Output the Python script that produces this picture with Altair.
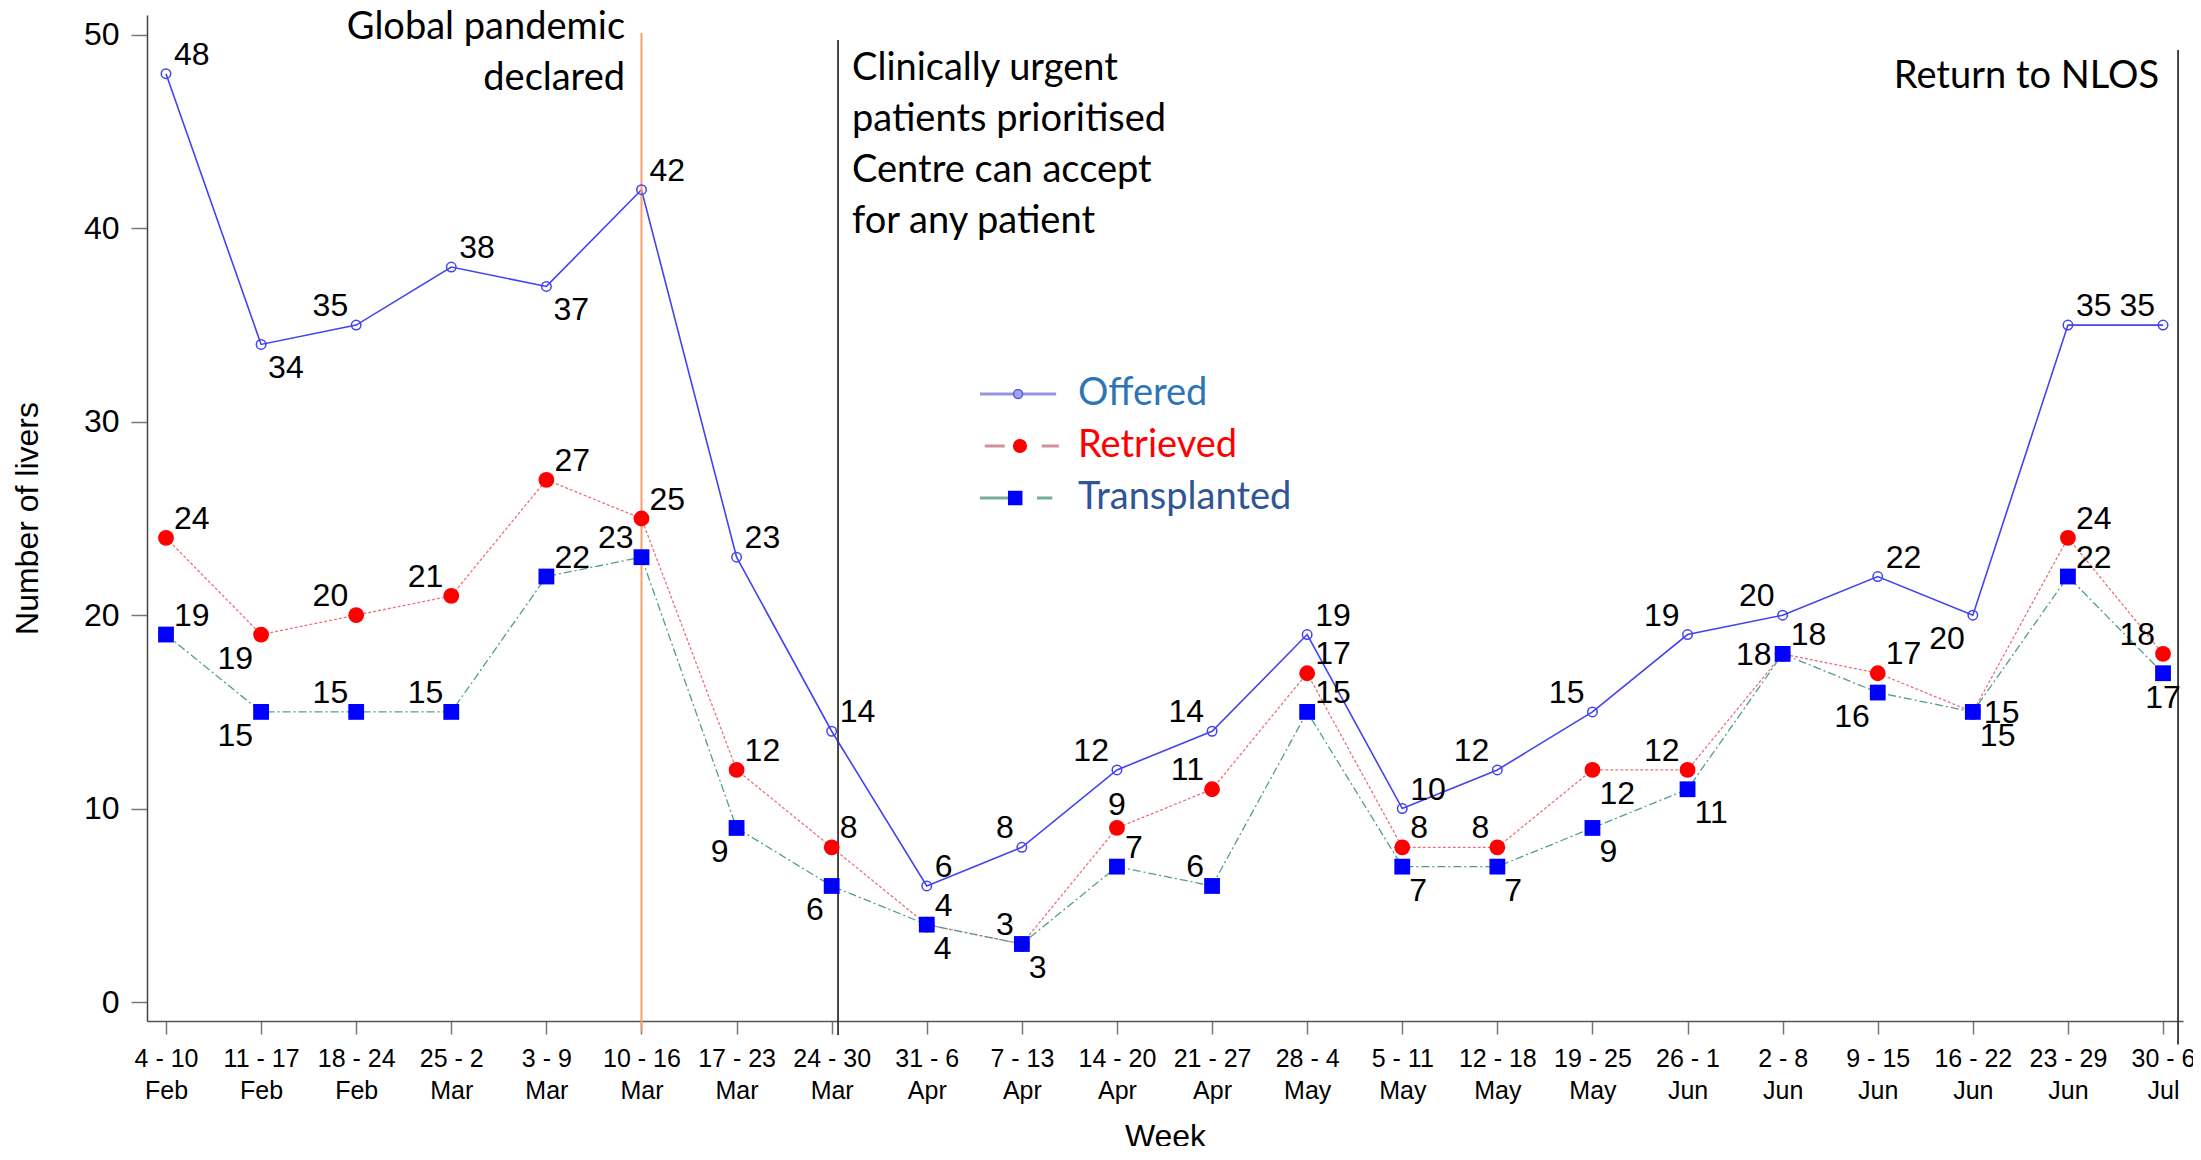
import json
import altair as alt
import pandas as pd

# ---------------- data ----------------
week_ranges = ["4 - 10", "11 - 17", "18 - 24", "25 - 2", "3 - 9", "10 - 16", "17 - 23",
               "24 - 30", "31 - 6", "7 - 13", "14 - 20", "21 - 27", "28 - 4", "5 - 11",
               "12 - 18", "19 - 25", "26 - 1", "2 - 8", "9 - 15", "16 - 22", "23 - 29", "30 - 6"]
week_months = ["Feb", "Feb", "Feb", "Mar", "Mar", "Mar", "Mar", "Mar", "Apr", "Apr", "Apr",
               "Apr", "May", "May", "May", "May", "Jun", "Jun", "Jun", "Jun", "Jun", "Jul"]
offered = [48, 34, 35, 38, 37, 42, 23, 14, 6, 8, 12, 14, 19, 10, 12, 15, 19, 20, 22, 20, 35, 35]
retrieved = [24, 19, 20, 21, 27, 25, 12, 8, 4, 3, 9, 11, 17, 8, 8, 12, 12, 18, 17, 15, 24, 18]
transplanted = [19, 15, 15, 15, 22, 23, 9, 6, 4, 3, 7, 6, 15, 7, 7, 9, 11, 18, 16, 15, 22, 17]
y_ticks = [0, 10, 20, 30, 40, 50]
series_names = ["Offered", "Retrieved", "Transplanted"]

# label placement codes (layout only)
offered_pos = ["ur", "lr", "ul", "ur", "lr", "ur", "ur", "ur", "ur", "ul", "ul", "ul", "ur", "ur",
               "ul", "ul", "ul", "ul", "ur", "ll", "ur", "ul"]
retrieved_pos = ["ur", "ll", "ul", "ul", "ur", "ur", "ur", "ur", "lr", "lr", "u", "ul", "ur", "ur",
                 "ul", "lr", "ul", "ur", "ur", "lr", "ur", "ul"]
transplanted_pos = ["ur", "ll", "ul", "ul", "ur", "ul", "ll", "ll", "ur", "ul", "ur", "ul", "ur", "lr",
                    "lr", "lr", "lr", "l", "ll", "r", "ur", "d"]

rows = []
for name, vals, poss in zip(series_names, [offered, retrieved, transplanted],
                            [offered_pos, retrieved_pos, transplanted_pos]):
    for i, (v, p) in enumerate(zip(vals, poss)):
        rows.append({"idx": i, "value": v, "series": name, "pos": p})
df = pd.DataFrame(rows)

# ---------------- scales / axes ----------------
label_pairs = [[r, m] for r, m in zip(week_ranges, week_months)]
label_expr = json.dumps(label_pairs) + "[round(datum.value)]"

LABEL_FONT = "Liberation Sans"
NOTE_FONT = "Lato"

x_enc = alt.X(
    "idx:Q",
    scale=alt.Scale(domain=[-0.1998, 21.21], nice=False, zero=False),
    axis=alt.Axis(
        values=list(range(len(week_ranges))), labelExpr=label_expr,
        labelFont=LABEL_FONT, labelFontSize=25, labelColor="black",
        labelLineHeight=32, labelPadding=12, labelAngle=0,
        labelOverlap=False, labelFlush=False,
        tickSize=13, tickColor="#777777", tickWidth=1.5,
        domainColor="#555555", domainWidth=1.5, grid=False,
        titleFont=LABEL_FONT, titleFontSize=32, titleFontWeight="normal",
        titleColor="black", titlePadding=18,
    ),
    title="Week",
)
y_enc = alt.Y(
    "value:Q",
    scale=alt.Scale(domain=[-0.982, 51.034], nice=False, zero=False),
    axis=alt.Axis(
        values=y_ticks, format="d",
        labelFont=LABEL_FONT, labelFontSize=32, labelColor="black", labelPadding=12,
        tickSize=16, tickColor="#777777", tickWidth=1.5,
        domainColor="#444444", domainWidth=1.5, grid=False,
        titleFont=LABEL_FONT, titleFontSize=32, titleFontWeight="normal",
        titleColor="black", titlePadding=39,
    ),
    title="Number of livers",
)

base = alt.Chart(df)

def series(name):
    return base.transform_filter(alt.datum.series == name)

line_ret = series("Retrieved").mark_line(color="#e8747c", strokeWidth=1.3,
                                         strokeDash=[3, 2]).encode(x=x_enc, y=y_enc)
line_tr = series("Transplanted").mark_line(color="#4f9f90", strokeWidth=1.3,
                                           strokeDash=[8, 3, 2, 3]).encode(x=x_enc, y=y_enc)
line_off = series("Offered").mark_line(color="#4343f0", strokeWidth=1.6).encode(x=x_enc, y=y_enc)

pts_ret = series("Retrieved").mark_circle(color="#ff0000", size=250, opacity=1).encode(x=x_enc, y=y_enc)
pts_tr = series("Transplanted").mark_square(color="#0000ff", size=250, opacity=1).encode(x=x_enc, y=y_enc)
pts_off = series("Offered").mark_point(shape="circle", filled=False, color="#4343f0", size=90,
                                       strokeWidth=1.5, opacity=1).encode(x=x_enc, y=y_enc)

placements = {
    "ur": dict(align="left", dx=8, dy=-9),
    "ul": dict(align="right", dx=-8, dy=-9),
    "lr": dict(align="left", dx=7, dy=34),
    "ll": dict(align="right", dx=-8, dy=34),
    "u": dict(align="center", dx=0, dy=-13),
    "d": dict(align="center", dx=0, dy=35),
    "l": dict(align="right", dx=-11, dy=11),
    "r": dict(align="left", dx=11, dy=11),
}
label_layers = []
for code, spec in placements.items():
    label_layers.append(
        base.transform_filter(alt.datum.pos == code).mark_text(
            baseline="alphabetic", font=LABEL_FONT, fontSize=32, color="black", **spec
        ).encode(x=x_enc, y=y_enc, text="value:Q")
    )

# ---------------- event lines & notes ----------------
def rule(idx, top, bottom, color, width):
    d = pd.DataFrame({"idx": [idx], "value": [top], "value2": [bottom]})
    return alt.Chart(d).mark_rule(color=color, strokeWidth=width).encode(
        x=x_enc, y=y_enc, y2="value2:Q")

rule_pandemic = rule(5, 50.1, -1.5, "#f4a06a", 2)
rule_urgent = rule(7.067, 49.74, -1.7, "#333333", 1.8)
rule_nlos = rule(21.158, 49.22, -2.2, "#333333", 1.8)

def note(idx, val, text, align):
    d = pd.DataFrame({"idx": [idx], "value": [val], "label": [text]})
    return alt.Chart(d).mark_text(
        align=align, baseline="alphabetic", font=NOTE_FONT, fontSize=38,
        lineBreak="\n", lineHeight=51, color="black"
    ).encode(x=x_enc, y=y_enc, text="label:N")

note_pandemic = note(4.827, 49.8, "Global pandemic\ndeclared", "right")
note_urgent = note(7.214, 47.67,
                   "Clinically urgent\npatients prioritised\nCentre can accept\nfor any patient", "left")
note_nlos = note(20.958, 47.26, "Return to NLOS", "right")

# ---------------- legend (drawn) ----------------
leg_y = [31.44, 28.75, 26.06]
leg_text_colors = ["#2e75b6", "#ff0000", "#2f5597"]

def leg_line(x1, x2, y, color, dash):
    d = pd.DataFrame({"idx": [x1], "idx2": [x2], "value": [y]})
    kw = dict(color=color, strokeWidth=3, opacity=0.85)
    if dash:
        kw["strokeDash"] = dash
    return alt.Chart(d).mark_rule(**kw).encode(x=x_enc, x2="idx2:Q", y=y_enc)

leg_l1 = leg_line(8.56, 9.36, leg_y[0], "#8484d4", None)
leg_l2 = leg_line(8.61, 9.39, leg_y[1], "#c98088", [20, 37])
leg_l3 = leg_line(8.56, 9.32, leg_y[2], "#5f9e8a", [29, 28, 16, 200])

def leg_pt(x, y):
    return pd.DataFrame({"idx": [x], "value": [y]})

leg_p1 = alt.Chart(leg_pt(8.96, leg_y[0])).mark_point(
    shape="circle", filled=True, fill="#a3a3ee", stroke="#5a5ae0", strokeWidth=1.5,
    size=80, opacity=1).encode(x=x_enc, y=y_enc)
leg_p2 = alt.Chart(leg_pt(8.98, leg_y[1])).mark_circle(
    color="#ff0000", size=200, opacity=1).encode(x=x_enc, y=y_enc)
leg_p3 = alt.Chart(leg_pt(8.93, leg_y[2])).mark_square(
    color="#0000ff", size=210, opacity=1).encode(x=x_enc, y=y_enc)

leg_text_df = pd.DataFrame({"idx": [9.59] * 3, "value": leg_y, "label": series_names,
                            "col": leg_text_colors})
leg_text = alt.Chart(leg_text_df).mark_text(
    align="left", baseline="middle", font=NOTE_FONT, fontSize=38
).encode(x=x_enc, y=y_enc, text="label:N", color=alt.Color("col:N", scale=None))

chart = alt.layer(
    line_ret, line_tr, line_off,
    rule_pandemic, rule_urgent, rule_nlos,
    pts_ret, pts_tr, pts_off,
    *label_layers,
    note_pandemic, note_urgent, note_nlos,
    leg_l1, leg_l2, leg_l3, leg_p1, leg_p2, leg_p3, leg_text,
).properties(
    width=2036, height=1006,
    padding={"left": 139, "top": 7, "right": 10, "bottom": 125},
    autosize=alt.AutoSizeParams(type="none"),
    background="white",
).configure_view(stroke=None)

chart.save("out.html", embed_options={"renderer": "svg", "actions": False})
